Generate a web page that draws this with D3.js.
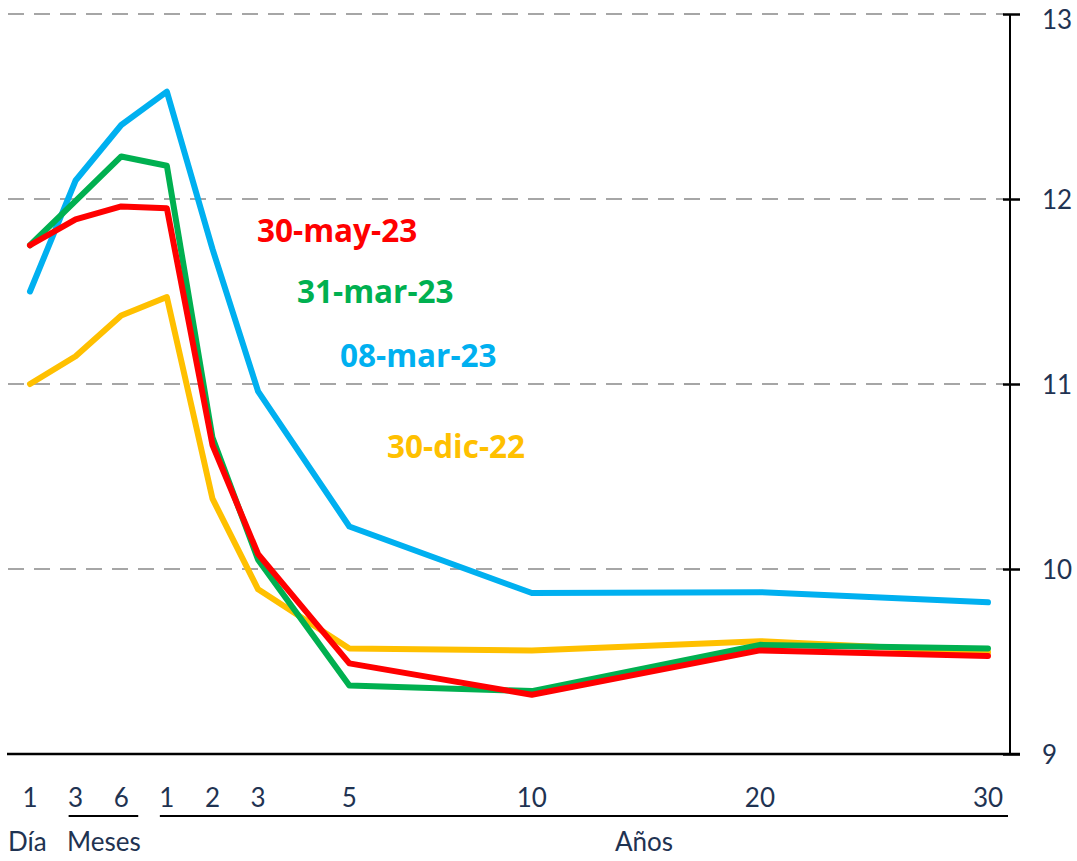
<!DOCTYPE html>
<html><head><meta charset="utf-8">
<script src="https://cdn.jsdelivr.net/npm/d3@7"></script>
<style>body{margin:0;background:#fff}svg{display:block}</style>
</head><body>
<script>
const tickLabels = ["1","3","6","1","2","3","5","10","20","30"];
const tickPos = [0,1,2,3,4,5,7,11,16,21];
const yTicks = [9,10,11,12,13];
const seriesNames = ["30-dic-22","08-mar-23","31-mar-23","30-may-23"];
const seriesColors = ["#ffc000","#00b0f0","#00b050","#ff0000"];
const dic22 = [11.00,11.15,11.37,11.47,10.38,9.89,9.57,9.56,9.61,9.55];
const mar08 = [11.50,12.10,12.40,12.58,11.73,10.96,10.23,9.87,9.875,9.82];
const mar31 = [11.75,11.99,12.23,12.18,10.71,10.05,9.37,9.34,9.59,9.57];
const may30 = [11.75,11.89,11.96,11.95,10.67,10.08,9.49,9.32,9.56,9.53];
const seriesValues = [dic22,mar08,mar31,may30];
const groupLabels = [{t:"Día",from:0,to:0},{t:"Meses",from:1,to:2},{t:"Años",from:3,to:9}];

const W=1077,H=861;
const svg=d3.select("body").append("svg").attr("width",W).attr("height",H);
const x=d3.scaleLinear().domain([0,21]).range([30,988]);
const y=d3.scaleLinear().domain([9,13]).range([754,14]);
const navy="#1f3352";
const font="Lato, 'Open Sans', sans-serif";

// gridlines
svg.append("g").selectAll("line").data(yTicks.filter(d=>d>9)).join("line")
  .attr("x1",8).attr("x2",1004).attr("y1",d=>y(d)).attr("y2",d=>y(d))
  .attr("stroke","#a6a6a6").attr("stroke-width",2).attr("stroke-dasharray","16,10");

// right axis
const ax=svg.append("g").attr("transform","translate(1010,0)")
  .call(d3.axisRight(y).tickValues(yTicks).tickSize(10).tickPadding(22).tickFormat(d3.format("d")));
ax.select(".domain").attr("stroke","#000").attr("stroke-width",2).attr("d","M0,"+y(13)+"V"+y(9));
ax.selectAll(".tick line").attr("x1",-7).attr("x2",10).attr("stroke","#000").attr("stroke-width",2.5);
ax.selectAll(".tick text").attr("fill",navy).attr("font-family",font).attr("font-size",26)
  .attr("dy",d=>d===13?"0.55em":"0.38em");

// bottom baseline
svg.append("line").attr("x1",7).attr("x2",1020).attr("y1",y(9)).attr("y2",y(9))
  .attr("stroke","#000").attr("stroke-width",2.5);

// x tick labels
svg.append("g").selectAll("text").data(tickLabels).join("text")
  .attr("x",(d,i)=>x(tickPos[i])).attr("y",807).attr("text-anchor","middle")
  .attr("fill",navy).attr("font-family",font).attr("font-size",26).text(d=>d);

// group underlines and labels
const gl=groupLabels.filter(g=>g.to>g.from);
svg.append("g").selectAll("line").data(gl).join("line")
  .attr("x1",d=>x(tickPos[d.from])-7).attr("x2",d=>d.t==="Años"?x(tickPos[d.to])+20:x(tickPos[d.to])+17)
  .attr("y1",816).attr("y2",816).attr("stroke","#000").attr("stroke-width",2);
svg.append("g").selectAll("text").data(groupLabels).join("text")
  .attr("x",d=>d.t==="Día"?8:d.t==="Meses"?67:644)
  .attr("text-anchor",d=>d.t==="Años"?"middle":"start")
  .attr("y",851).attr("fill",navy).attr("font-family",font).attr("font-size",26).text(d=>d.t);

// lines
const line=d3.line().x((d,i)=>x(tickPos[i])).y(d=>y(d));
svg.append("g").selectAll("path").data(seriesValues).join("path")
  .attr("d",line).attr("fill","none").attr("stroke",(d,i)=>seriesColors[i])
  .attr("stroke-width",6).attr("stroke-linejoin","round").attr("stroke-linecap","round");

// series labels
const labelAnchors=[{x:387,y:458},{x:340,y:367},{x:297,y:303},{x:257,y:242}];
svg.append("g").selectAll("text").data(seriesNames).join("text")
  .attr("x",(d,i)=>labelAnchors[i].x).attr("y",(d,i)=>labelAnchors[i].y)
  .attr("fill",(d,i)=>seriesColors[i]).attr("font-family","'Open Sans', Lato, sans-serif").attr("font-weight","bold")
  .attr("font-size",31.5).text(d=>d);
</script>
</body></html>
